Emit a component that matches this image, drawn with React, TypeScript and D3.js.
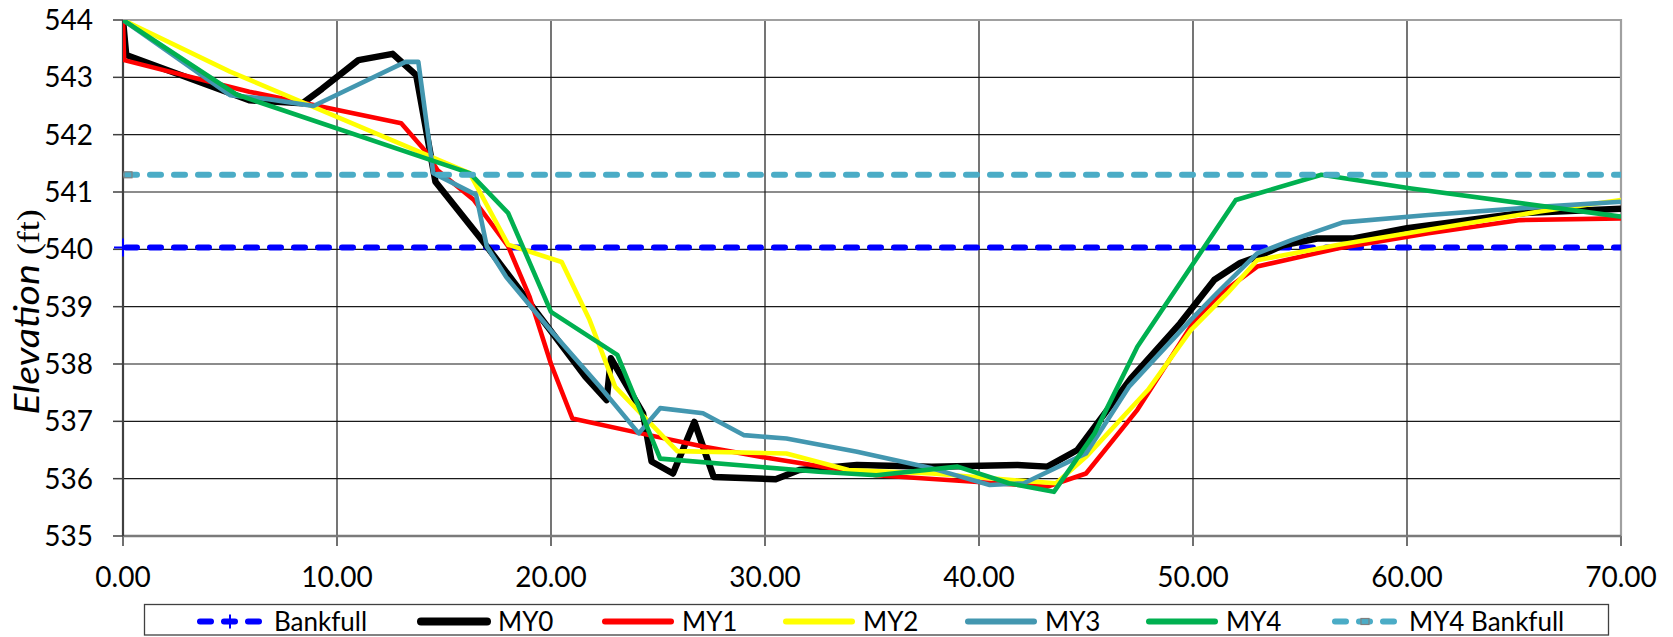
import React, { useRef, useEffect } from 'react';
import * as d3 from 'd3';

// station (ft) / elevation (ft)
const stationMY0 = [0, 0.15, 5.9, 8.4, 9.3, 11.0, 12.6, 13.7, 14.6, 16.9, 19.6, 21.6, 22.6, 22.8, 24.3, 24.7, 25.7, 26.7, 27.6, 30.5, 31.6, 34.3, 37.8, 41.8, 43.2, 44.6, 47.1, 49.4, 51.0, 52.2, 53.0, 54.2, 55.8, 57.5, 60.0, 65.3, 70.0];
const elevMY0 = [544.0, 543.39, 542.6, 542.55, 542.8, 543.3, 543.41, 543.04, 541.18, 540.1, 538.77, 537.78, 537.37, 538.1, 537.14, 536.3, 536.09, 536.99, 536.03, 535.99, 536.15, 536.24, 536.21, 536.24, 536.21, 536.5, 537.75, 538.71, 539.47, 539.76, 539.87, 540.07, 540.19, 540.19, 540.37, 540.63, 540.71];

const stationMY1 = [0, 0.05, 5.9, 13.0, 14.1, 14.7, 16.4, 18.0, 19.0, 20.0, 21.0, 24.2, 27.1, 30.3, 35.2, 39.6, 43.2, 45.0, 47.4, 50.1, 51.3, 53.0, 56.8, 61.0, 65.3, 70.0];
const elevMY1 = [544.0, 543.3, 542.75, 542.2, 541.73, 541.38, 540.86, 540.05, 539.17, 538.0, 537.05, 536.79, 536.56, 536.35, 536.06, 535.95, 535.86, 536.09, 537.2, 538.77, 539.23, 539.7, 540.02, 540.28, 540.51, 540.54];

const stationMY2 = [0, 5.0, 16.2, 18.0, 20.5, 21.8, 23.0, 25.9, 31.0, 33.9, 37.8, 41.4, 43.6, 45.0, 47.9, 49.9, 51.6, 53.0, 56.8, 61.0, 66.2, 70.0];
const elevMY2 = [544.0, 543.1, 541.33, 540.08, 539.78, 538.77, 537.6, 536.48, 536.44, 536.15, 536.09, 535.98, 535.92, 536.38, 537.55, 538.59, 539.23, 539.81, 540.08, 540.34, 540.66, 540.86];

const stationMY3 = [0, 5.0, 6.8, 8.9, 13.2, 13.8, 14.5, 16.5, 17.0, 17.9, 20.0, 22.3, 24.1, 25.1, 27.1, 29.0, 31.0, 34.3, 37.8, 40.5, 42.1, 45.0, 47.0, 49.9, 51.1, 53.0, 54.6, 57.0, 61.0, 66.2, 70.0];
const elevMY3 = [544.0, 542.69, 542.62, 542.5, 543.27, 543.27, 541.33, 540.95, 540.05, 539.52, 538.58, 537.6, 536.79, 537.23, 537.14, 536.76, 536.7, 536.47, 536.18, 535.89, 535.92, 536.44, 537.6, 538.77, 539.23, 539.93, 540.16, 540.47, 540.6, 540.74, 540.83];

const stationMY4 = [0, 5.3, 16.2, 18.0, 20.0, 23.1, 25.1, 32.5, 35.2, 39.0, 41.4, 43.5, 45.4, 47.4, 52.0, 56.0, 60.2, 70.0];
const elevMY4 = [544.0, 542.7, 541.33, 540.63, 538.91, 538.16, 536.35, 536.12, 536.06, 536.21, 535.92, 535.77, 536.79, 538.3, 540.86, 541.3, 541.06, 540.57];

const stationBankfull = [0, 70];
const elevBankfull = [540.03, 540.03];
const elevMY4Bankfull = [541.3, 541.3];

const xTicks = [0, 10, 20, 30, 40, 50, 60, 70];
const yTicks = [535, 536, 537, 538, 539, 540, 541, 542, 543, 544];

const seriesNames = ['Bankfull', 'MY0', 'MY1', 'MY2', 'MY3', 'MY4', 'MY4 Bankfull'];
const seriesColors = ['#0000FF', '#000000', '#FF0000', '#FFFF00', '#4397B0', '#00B050', '#4BACC6'];

const FONT = "Lato, 'Open Sans', sans-serif";

export default function App(): JSX.Element {
  const svgRef = useRef<SVGSVGElement>(null);

  useEffect(() => {
    const svgEle = svgRef.current;
    if (svgEle == null) {
      return;
    }
    const svg = d3.select(svgEle);
    svg.selectAll('*').remove();

    const plot = { left: 123, right: 1621, top: 20, bottom: 536 };

    const x = d3.scaleLinear().domain([0, 70]).range([plot.left, plot.right]);
    const y = d3.scaleLinear().domain([535, 544]).range([plot.bottom, plot.top]);

    svg.append('rect').attr('width', 1673).attr('height', 637).attr('fill', '#fff');

    // 网格线
    svg
      .append('g')
      .selectAll('line')
      .data(yTicks.slice(1, -1))
      .join('line')
      .attr('x1', plot.left)
      .attr('x2', plot.right)
      .attr('y1', (d) => y(d))
      .attr('y2', (d) => y(d))
      .attr('stroke', '#1a1a1a')
      .attr('stroke-width', 1.2);
    svg
      .append('g')
      .selectAll('line')
      .data(xTicks.slice(1, -1))
      .join('line')
      .attr('x1', (d) => x(d))
      .attr('x2', (d) => x(d))
      .attr('y1', plot.top)
      .attr('y2', plot.bottom)
      .attr('stroke', '#1a1a1a')
      .attr('stroke-width', 1.2);

    // 边框（上、右灰色）
    svg
      .append('path')
      .attr('d', `M${plot.left},${y(544)}H${x(70)}V${plot.bottom}`)
      .attr('fill', 'none')
      .attr('stroke', '#a0a0a0')
      .attr('stroke-width', 2.2);

    // 刻度
    svg
      .append('g')
      .selectAll('line')
      .data(yTicks)
      .join('line')
      .attr('x1', plot.left - 10)
      .attr('x2', plot.left)
      .attr('y1', (d) => y(d))
      .attr('y2', (d) => y(d))
      .attr('stroke', '#404040')
      .attr('stroke-width', 1.5);
    svg
      .append('g')
      .selectAll('line')
      .data(xTicks)
      .join('line')
      .attr('x1', (d) => x(d))
      .attr('x2', (d) => x(d))
      .attr('y1', plot.bottom)
      .attr('y2', plot.bottom + 10)
      .attr('stroke', '#404040')
      .attr('stroke-width', 1.5);

    // 坐标轴线
    svg
      .append('line')
      .attr('x1', plot.left)
      .attr('x2', plot.right)
      .attr('y1', plot.bottom)
      .attr('y2', plot.bottom)
      .attr('stroke', '#7a7a7a')
      .attr('stroke-width', 2.4);
    svg
      .append('line')
      .attr('x1', plot.left)
      .attr('x2', plot.left)
      .attr('y1', plot.top)
      .attr('y2', plot.bottom)
      .attr('stroke', '#404040')
      .attr('stroke-width', 2.2);

    // 刻度文字
    svg
      .append('g')
      .selectAll('text')
      .data(yTicks)
      .join('text')
      .attr('x', plot.left - 30)
      .attr('y', (d) => y(d) + 10)
      .attr('text-anchor', 'end')
      .attr('font-family', FONT)
      .attr('font-size', 28)
      .attr('fill', '#000')
      .text((d) => d3.format('d')(d));
    svg
      .append('g')
      .selectAll('text')
      .data(xTicks)
      .join('text')
      .attr('x', (d) => x(d))
      .attr('y', 587)
      .attr('text-anchor', 'middle')
      .attr('font-family', FONT)
      .attr('font-size', 28)
      .attr('fill', '#000')
      .text((d) => d3.format('.2f')(d));

    // 纵轴标题（原图沿文字方向略宽）
    const yTitle = svg
      .append('text')
      .attr('transform', `translate(39, 312) rotate(-90) scale(1.16, 1)`)
      .attr('text-anchor', 'middle')
      .attr('fill', '#000')
      .attr('font-size', 34);
    yTitle
      .append('tspan')
      .attr('font-family', FONT)
      .attr('font-size', 34)
      .attr('font-style', 'italic')
      .text('Elevation');
    yTitle
      .append('tspan')
      .attr('font-family', "'Liberation Serif', 'DejaVu Serif', serif")
      .attr('font-size', 31)
      .text(' (ft)');

    // 数据线
    svg
      .append('clipPath')
      .attr('id', 'plot-clip')
      .append('rect')
      .attr('x', plot.left)
      .attr('y', plot.top)
      .attr('width', plot.right - plot.left)
      .attr('height', plot.bottom - plot.top);

    const lineGen = d3
      .line<[number, number]>()
      .x((d) => x(d[0]))
      .y((d) => y(d[1]));

    const zipped = (st: number[], el: number[]) => st.map((s, i) => [s, el[i]] as [number, number]);

    const seriesData = [
      zipped(stationBankfull, elevBankfull),
      zipped(stationMY0, elevMY0),
      zipped(stationMY1, elevMY1),
      zipped(stationMY2, elevMY2),
      zipped(stationMY3, elevMY3),
      zipped(stationMY4, elevMY4),
      zipped(stationBankfull, elevMY4Bankfull)
    ];
    const widths = [6, 6.5, 4.6, 4.6, 4.6, 4.6, 6];
    const dashed = [true, false, false, false, false, false, true];

    const lines = svg.append('g').attr('clip-path', 'url(#plot-clip)');
    seriesData.forEach((pts, i) => {
      lines
        .append('path')
        .attr('d', lineGen(pts))
        .attr('fill', 'none')
        .attr('stroke', seriesColors[i])
        .attr('stroke-width', widths[i])
        .attr('stroke-linejoin', 'round')
        .attr('stroke-linecap', dashed[i] ? 'round' : 'butt')
        .attr('stroke-dasharray', dashed[i] ? '11 13' : null)
        .attr('stroke-dashoffset', dashed[i] ? -3 : null);
    });

    // 首点标记
    const bx = x(stationBankfull[0]);
    const byy = y(elevBankfull[0]);
    svg
      .append('path')
      .attr('d', `M${bx - 9},${byy}H${bx + 9}M${bx},${byy - 9}V${byy + 9}`)
      .attr('stroke', seriesColors[0])
      .attr('stroke-width', 2);
    svg
      .append('rect')
      .attr('x', x(stationBankfull[0]) + 1)
      .attr('y', y(elevMY4Bankfull[0]) - 3)
      .attr('width', 8)
      .attr('height', 6)
      .attr('fill', seriesColors[6])
      .attr('stroke', '#808080')
      .attr('stroke-width', 1.2);

    // 图例
    const legendBox = { left: 144.5, right: 1608.5, top: 604.5, bottom: 635 };
    svg
      .append('rect')
      .attr('x', legendBox.left)
      .attr('y', legendBox.top)
      .attr('width', legendBox.right - legendBox.left)
      .attr('height', legendBox.bottom - legendBox.top)
      .attr('fill', '#fff')
      .attr('stroke', '#404040')
      .attr('stroke-width', 1.3);

    // 图例各项的起点（与原图 Calibri 排版对齐）
    const legendStarts = [197, 421, 605, 786, 968, 1149, 1332];
    const symbolW = 66;
    const textOffset = 77;
    const ly = 621.5;
    seriesNames.forEach((name, i) => {
      const start = legendStarts[i];
      const g = svg.append('g');
      g.append('line')
        .attr('x1', start + (dashed[i] ? 3 : 0))
        .attr('x2', start + symbolW - (dashed[i] ? 3 : 0))
        .attr('y1', ly)
        .attr('y2', ly)
        .attr('stroke', seriesColors[i])
        .attr('stroke-width', i === 1 ? 8 : 6)
        .attr('stroke-linecap', 'round')
        .attr('stroke-dasharray', dashed[i] ? '11 13' : null);
      const mid = start + symbolW / 2;
      if (i === 0) {
        g.append('path')
          .attr('d', `M${mid - 6},${ly}H${mid + 6}M${mid},${ly - 7}V${ly + 7}`)
          .attr('stroke', seriesColors[0])
          .attr('stroke-width', 2);
      }
      if (i === 6) {
        g.append('rect')
          .attr('x', mid - 4)
          .attr('y', ly - 3)
          .attr('width', 8)
          .attr('height', 6)
          .attr('fill', seriesColors[6])
          .attr('stroke', '#808080')
          .attr('stroke-width', 1.2);
      }
      g.append('text')
        .attr('x', start + textOffset)
        .attr('y', ly + 9)
        .attr('font-family', FONT)
        .attr('font-size', 26)
        .attr('fill', '#000')
        .text(name);
    });
  }, []);

  return (
    <svg
      ref={svgRef}
      width={1673}
      height={637}
      style={{ position: 'absolute', left: 0, top: 0, display: 'block' }}
    />
  );
}
